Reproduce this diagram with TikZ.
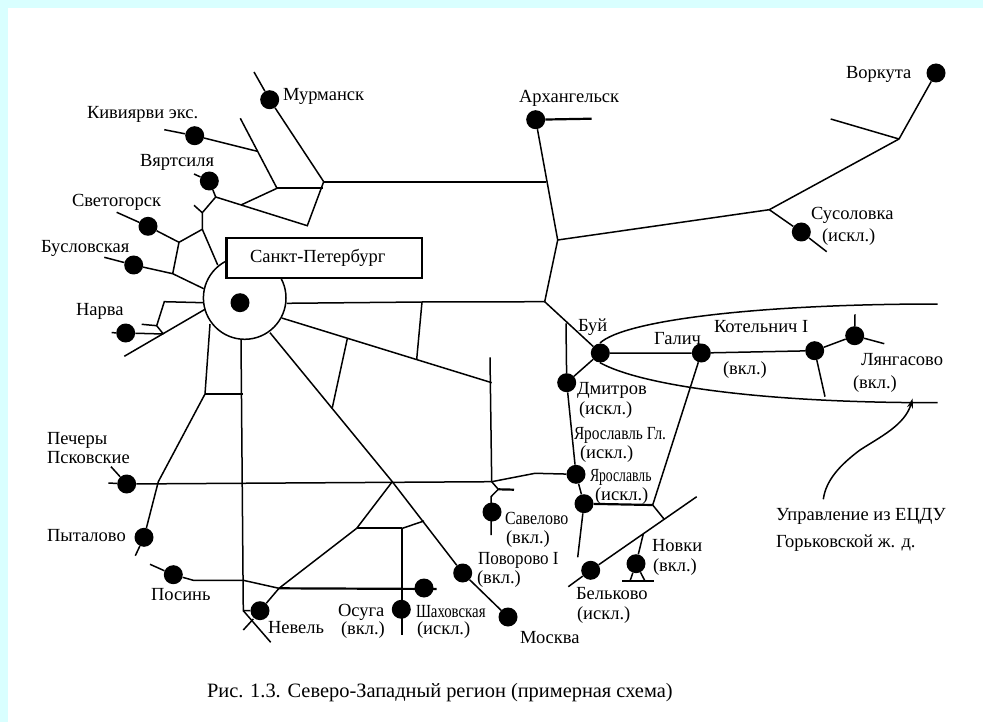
\documentclass[tikz,border=0pt]{standalone}
\usepackage{fontspec}
\usepackage{graphicx}
\setmainfont{Liberation Serif}
\usetikzlibrary{arrows.meta}
\definecolor{pagecyan}{HTML}{D9FFFF}
\newcommand{\condensed}[2]{\scalebox{#1}[1]{#2}}
\tikzset{
  x=1pt,y=-1pt,
  road/.style={draw=black,line width=1.5pt},
  heavy/.style={draw=black,line width=2.2pt},
  stn/.style={circle,fill=black,draw=none,minimum size=19pt,inner sep=0pt},
  lbl/.style={anchor=base west,inner sep=0pt,outer sep=0pt,font=\fontsize{18.5}{20}\selectfont,text=black},
}
\begin{document}
\begin{tikzpicture}
\useasboundingbox (0,0) rectangle (983,722);
\fill[white] (0,0) rectangle (983,722);
\fill[pagecyan] (0,0) rectangle (983,8);
\fill[pagecyan] (0,0) rectangle (8,722);
% stations
\node[stn] (murm) at (269.7,99.7) {};
\node[stn] (kiv) at (194.7,135.7) {};
\node[stn] (vyar) at (209.3,181) {};
\node[stn] (svet) at (148,226.3) {};
\node[stn] (busl) at (133.7,265) {};
\node[stn] (narva) at (125.7,333) {};
\node[stn] (arkh) at (535.7,119.7) {};
\node[stn] (vork) at (936,73) {};
\node[stn] (suso) at (801.3,232) {};
\node[stn] (buy) at (600.3,353) {};
\node[stn] (galich) at (701.3,353) {};
\node[stn] (kotel) at (814.7,350.7) {};
\node[stn] (lyang) at (854.7,335.7) {};
\node[stn] (dmit) at (566.7,382.7) {};
\node[stn] (yar) at (576,474.3) {};
\node[stn] (yarb) at (584,503.7) {};
\node[stn] (belk) at (590.7,570.3) {};
\node[stn] (novki) at (636,563.7) {};
\node[stn] (savel) at (492,512) {};
\node[stn] (povor) at (462.7,573) {};
\node[stn] (mosk) at (508,617) {};
\node[stn] (osuga) at (401.3,609.3) {};
\node[stn] (shakh) at (424,588) {};
\node[stn] (nevel) at (260,610.7) {};
\node[stn] (posin) at (173.3,574.7) {};
\node[stn] (pyt) at (144,537.3) {};
\node[stn] (pech) at (126.7,484) {};
% free ends and junctions
\foreach \n/\x/\y in {
 murmEnd/254/72, mj/323.7/181.7, kivEnd/164.3/129.7, kj/257.3/151.3, t1/240.3/118.3, t2/277/188.3,
 t3/323/188.3, t4/307.3/225.7, vj/215.7/197, t5/241/205, vyEnd/194/174, a1/202.3/212.7, a1e/194/205.3,
 a2/202.3/229.3, a3/179/242.3, a4/217.7/265, svEnd/116.7/212.3, b1/172.7/273.7, buEnd/104.3/257.3,
 b2/203.7/288.7, nW/111.7/332.7, nj/163.3/334, c1/203.3/302.7, c2/164.3/301.7, c3/156.7/325.7,
 c3e/141.7/324.3, d1/124.3/356.3, d2/205/309.3, e1/286.7/303.3, e2/422/302, e3/544.7/301.7,
 e4/416.7/359.3, f1/281.7/318, f2/491.7/382.7, f3/490/357.3, f4/491.7/481.7, g1/347.3/338.7,
 g2/332.3/407.7, h1/270/332.7, h2/392.3/481.7, i1/241/340, i2/243.3/610.7, l1/210/324, l2/205/394,
 l3/242.7/394, l4/158.3/481.7, pyEnd/135.3/555.7, peW/108.3/483, peEnd/111/466.7,
 m1/356.7/528.3, m2/402.3/528.3, m3/424/521, m4/402.3/635, n1/279/588.3, n2/436.7/589,
 p1/150/564.3, p2/193.3/580.3, p3/243.3/580.3, q1/270.7/642.3, q2/243.3/630, q3/253.3/619,
 r1/498.3/489.3, r2/514/489.7, r3/491/496.7, r4/491/535, s1/535/473.3,
 u1/546/181.7, u2/557.7/240, u3/769.3/209.7, u4/899/139, u5/830.7/119, u6/591.7/118.7, u7/826.7/251.7,
 w1/566/323.3, w2/577.7/557.3, w3/652.7/505, w4/664/519, w5/825/396.7, w6/855/314.3, w7/884.3/343.7,
 y1/568.3/586.7, y2/696.7/496.7, y3/643.3/534, z1/622.3/581, z2/654/581, z3/630/581, z4/645/581,
 k1/600/343, k2/937.7/304, k3/600/362.7, k4/937.7/402.7, ar1/823.3/499.3, ar2/912.7/398.3}
 {\coordinate (\n) at (\x,\y);}
% city circle with its inner station
\node[circle,draw=black,line width=1.5pt,fill=white,minimum size=82.6pt,inner sep=0pt] (spbring) at (244.7,298) {};
\node[stn] (spb) at (240,302.7) {};
% north-west
\draw[road] (murmEnd) -- (murm) -- (mj);
\draw[road] (kivEnd) -- (kiv) -- (kj);
\draw[road] (t1) -- (t2);
\draw[heavy] (t2) -- (t3);
\draw[road] (mj) -- (t4) -- (vj);
\draw[road] (t2) -- (t5);
\draw[road] (vyEnd) -- (vyar) -- (vj) -- (a1) -- (a2) -- (a3);
\draw[road] (a1e) -- (a1);
\draw[road] (a2) -- (a4);
\draw[road] (svEnd) -- (svet) -- (a3) -- (b1);
\draw[road] (buEnd) -- (busl) -- (b1) -- (b2);
\draw[road] (nW) -- (narva) -- (nj);
\draw[road] (c1) -- (c2) -- (c3) -- (nj);
\draw[road] (c3e) -- (c3);
\draw[road] (d1) -- (d2);
% radial lines
\draw[heavy] (mj) -- (u1);
\draw[road] (e1) -- (e2) -- (e3);
\draw[road] (e2) -- (e4);
\draw[road] (f1) -- (f2);
\draw[road] (f3) -- (f4);
\draw[road] (g1) -- (g2);
\draw[road] (h1) -- (h2) -- (povor) -- (mosk);
\draw[road] (i1) -- (i2) -- (nevel);
\draw[road] (i2) -- (q1);
\draw[road] (q2) -- (q3);
\draw[road] (l1) -- (l2) -- (l4) -- (pyt) -- (pyEnd);
\draw[heavy] (l2) -- (l3);
% west–east line
\draw[road] (peW) -- (pech) -- (f4);
\draw[road] (peEnd) -- (pech);
\draw[road] (f4) -- (s1) -- (yar);
\draw[road] (f4) -- (r1) -- (r3) -- (r4);
\draw[heavy] (r1) -- (r2);
% south
\draw[road] (h2) -- (m1);
\draw[heavy] (m1) -- (m2);
\draw[road] (m2) -- (m3);
\draw[heavy] (m2) -- (m4);
\draw[road] (m1) -- (n1) -- (nevel);
\draw[heavy] (n1) -- (n2);
\draw[road] (p1) -- (posin) -- (p2) -- (p3) -- (n1);
% north-east
\draw[road] (arkh) -- (u2) -- (e3);
\draw[heavy] (arkh) -- (u6);
\draw[road] (u2) -- (u3) -- (u4) -- (vork);
\draw[road] (u5) -- (u4);
\draw[road] (u3) -- (suso) -- (u7);
\draw[road] (e3) -- (buy);
\draw[road] (w1) -- (dmit) -- (buy);
\draw[road] (buy) -- (galich) -- (kotel) -- (lyang) -- (w7);
\draw[road] (kotel) -- (w5);
\draw[road] (w6) -- (lyang);
\draw[road] (dmit) -- (yar) -- (yarb) -- (w2);
\draw[heavy] (yarb) -- (w3);
\draw[road] (w3) -- (galich);
\draw[road] (w3) -- (w4);
\draw[road] (y1) -- (belk) -- (y2);
\draw[road] (y3) -- (novki);
\draw[heavy] (z1) -- (z2);
\draw[road] (novki) -- (z3);
\draw[road] (novki) -- (z4);
\draw[road] (k1) .. controls (625,320) and (760,304) .. (k2);
\draw[road] (k3) .. controls (640,385) and (760,403) .. (k4);
\draw[line width=1.5pt,-{Stealth[length=10pt,width=6pt]}] (ar1) .. controls (826,480) and (840,465) .. (860,450) .. controls (880,437) and (905,425) .. (ar2);
% box
\node[draw=black,line width=2.2pt,fill=white,minimum width=195.5pt,minimum height=40pt,inner sep=0pt] (spbbox) at (324.2,258) {};
% labels
\node[lbl] (tMurm) at (283,101) {Мурманск};
\node[lbl] (tKiv) at (87,119) {Кивиярви экс.};
\node[lbl] (tVyar) at (140,167) {Вяртсиля};
\node[lbl] (tSvet) at (72,207) {Светогорск};
\node[lbl] (tBusl) at (41,253) {Бусловская};
\node[lbl] (tNarva) at (76,316) {Нарва};
\node[lbl] (tSpb) at (250,262) {Санкт-Петербург};
\node[lbl] (tArkh) at (519,103) {Архангельск};
\node[lbl] (tVork) at (846,79) {Воркута};
\node[lbl] (tSuso) at (811,220) {Сусоловка};
\node[lbl] (tSuso2) at (822,242) {(искл.)};
\node[lbl] (tBuy) at (578,331) {Буй};
\node[lbl] (tGal) at (654,344) {Галич};
\node[lbl] (tKot) at (714,332) {Котельнич I};
\node[lbl] (tKot2) at (723,374) {(вкл.)};
\node[lbl] (tLya) at (861,365) {Лянгасово};
\node[lbl] (tLya2) at (853,388) {(вкл.)};
\node[lbl] (tDmit) at (577,394) {Дмитров};
\node[lbl] (tDmit2) at (579,414) {(искл.)};
\node[lbl] (tYag) at (574,439) {\condensed{0.83}{Ярославль Гл.}};
\node[lbl] (tYag2) at (580,458) {(искл.)};
\node[lbl] (tYar) at (590,481) {\condensed{0.74}{Ярославль}};
\node[lbl] (tYar2) at (595,500) {(искл.)};
\node[lbl] (tSav) at (505,524) {\condensed{0.86}{Савелово}};
\node[lbl] (tSav2) at (506,543) {(вкл.)};
\node[lbl] (tPov) at (478,564) {\condensed{0.92}{Поворово I}};
\node[lbl] (tPov2) at (477,583) {(вкл.)};
\node[lbl] (tNov) at (652,551) {Новки};
\node[lbl] (tNov2) at (653,571) {(вкл.)};
\node[lbl] (tBel) at (576,599) {Бельково};
\node[lbl] (tBel2) at (577,619) {(искл.)};
\node[lbl] (tMos) at (520,643) {Москва};
\node[lbl] (tSha) at (416,617) {\condensed{0.8}{Шаховская}};
\node[lbl] (tSha2) at (417,634) {(искл.)};
\node[lbl] (tOsu) at (338,616) {Осуга};
\node[lbl] (tOsu2) at (341,634) {(вкл.)};
\node[lbl] (tNev) at (268,633) {Невель};
\node[lbl] (tPos) at (151,600) {Посинь};
\node[lbl] (tPyt) at (47,541) {Пыталово};
\node[lbl] (tPech) at (47,444) {Печеры};
\node[lbl] (tPsk) at (47,463) {Псковские};
\node[lbl] (tUpr) at (776,520) {Управление из ЕЦДУ};
\node[lbl] (tGor) at (776,547) {Горьковской ж. д.};
\node[lbl,font=\fontsize{20.4}{22}\selectfont] (tCap) at (207,697) {Рис. 1.3. Северо-Западный регион (примерная схема)};
\end{tikzpicture}
\end{document}
